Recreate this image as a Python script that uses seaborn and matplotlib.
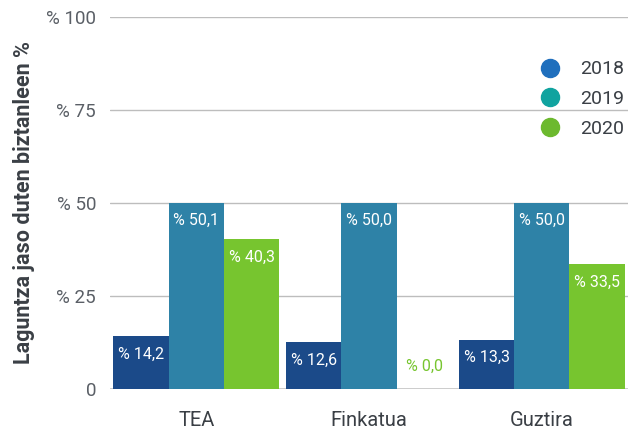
import seaborn as sns
import pandas as pd
import matplotlib.pyplot as plt
from matplotlib.lines import Line2D

categories = ["TEA", "Finkatua", "Guztira"]
years = ["2018", "2019", "2020"]
values_2018 = [14.2, 12.6, 13.3]
values_2019 = [50.1, 50.0, 50.0]
values_2020 = [40.3, 0.0, 33.5]
y_ticks = [0, 25, 50, 75, 100]
y_tick_labels = ["0", "% 25", "% 50", "% 75", "% 100"]

bar_colors = ["#1b4a89", "#2e82a7", "#77c52f"]
legend_colors = ["#1f6fbd", "#10a39f", "#6cb92e"]

rows = []
for year, vals in zip(years, [values_2018, values_2019, values_2020]):
    for cat, v in zip(categories, vals):
        rows.append({"cat": cat, "year": year, "value": v})
df = pd.DataFrame(rows)

sns.set_style("white")
plt.rcParams["font.family"] = ["Roboto", "DejaVu Sans"]

fig = plt.figure(figsize=(6.32, 4.32), dpi=100)
ax = fig.add_axes([0.174, 0.0995, 0.82, 0.8615])

ax.set_axisbelow(True)
for t in y_ticks:
    ax.axhline(t, color="#bdbdbd" if t else "#c8c8c8", lw=1.0 if t else 2.0, zorder=0)

sns.barplot(data=df, x="cat", y="value", hue="year", palette=bar_colors,
            width=0.96, gap=0, dodge=True, saturation=1, linewidth=0,
            legend=False, ax=ax)

for container, year in zip(ax.containers, years):
    for bar in container:
        h = bar.get_height()
        xc = bar.get_x() + bar.get_width() / 2
        txt = f"% {h:.1f}".replace(".", ",")
        if h > 0:
            ax.text(xc, h - 4.8, txt, ha="center", va="center", color="white", fontsize=11.5)
        else:
            ax.text(xc, 6, txt, ha="center", va="center", color=bar_colors[2], fontsize=11.5)

ax.set_ylim(0, 100)
ax.set_xlim(-0.5, 2.5)
ax.set_yticks(y_ticks)
ax.set_yticklabels(y_tick_labels)
ax.tick_params(axis="y", labelsize=13.5, labelcolor="#5a5f66", length=0, pad=10)
ax.tick_params(axis="x", labelsize=14.5, labelcolor="#3a3f45", length=0, pad=16)
ax.set_xlabel("")
ax.set_ylabel("Laguntza jaso duten biztanleen %", fontsize=15.5, fontweight="bold",
              color="#3a3f45", labelpad=8)
for s in ax.spines.values():
    s.set_visible(False)

handles = [Line2D([], [], marker="o", ls="", markersize=13, color=c) for c in legend_colors]
ax.legend(handles, years, loc="upper right", bbox_to_anchor=(1.025, 0.93), frameon=False,
          fontsize=14, labelcolor="#3a3f45", handletextpad=0.5, labelspacing=0.6)

fig.savefig("out.png", dpi=100)
